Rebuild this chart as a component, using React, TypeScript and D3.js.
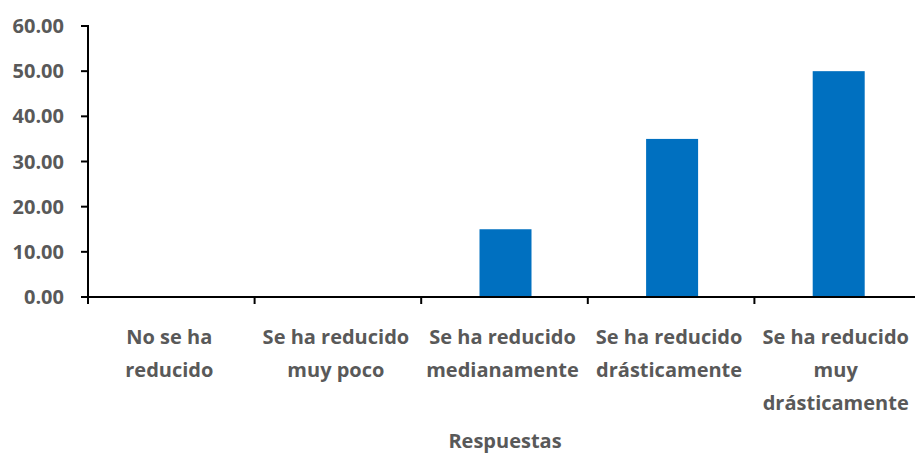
import React, { useEffect, useRef } from 'react';
import * as d3 from 'd3';

const categories = [
  "No se ha reducido",
  "Se ha reducido muy poco",
  "Se ha reducido medianamente",
  "Se ha reducido drásticamente",
  "Se ha reducido muy drásticamente",
];
const labelLines = [
  ["No se ha", "reducido"],
  ["Se ha reducido", "muy poco"],
  ["Se ha reducido", "medianamente"],
  ["Se ha reducido", "drásticamente"],
  ["Se ha reducido", "muy", "drásticamente"],
];
const values = [0, 0, 15, 35, 50];
const yTicks = [0, 10, 20, 30, 40, 50, 60];

const App: React.FC = () => {
  const ref = useRef<SVGSVGElement | null>(null);

  useEffect(() => {
    if (!ref.current) return;
    const width = 915;
    const height = 455;
    const margin = { top: 26, left: 88, bottom: 297 };
    const font = "'Open Sans', 'DejaVu Sans', sans-serif";
    const fontSize = "20px";
    const textColor = "#595959";

    const svg = d3.select(ref.current).attr("width", width).attr("height", height);
    svg.selectAll("*").remove();

    const x = d3.scaleBand<string>().domain(categories).range([margin.left, 921]).paddingInner(0).paddingOuter(0);
    const y = d3.scaleLinear().domain([0, 60]).range([margin.bottom, margin.top]);

    // bars
    const bw = 52;
    svg.append("g")
      .selectAll("rect")
      .data(values)
      .enter()
      .append("rect")
      .attr("x", (d, i) => (x(categories[i]) as number) + x.bandwidth() / 2 - bw / 2 + 1)
      .attr("y", d => y(d))
      .attr("width", bw)
      .attr("height", d => y(0) - y(d))
      .attr("fill", "#0070C0");

    // y axis
    const yAxis = svg.append("g");
    yAxis.append("line")
      .attr("x1", margin.left).attr("x2", margin.left)
      .attr("y1", y(60) - 1).attr("y2", y(0) + 1)
      .attr("stroke", "#000").attr("stroke-width", 2);
    yTicks.forEach(t => {
      yAxis.append("line")
        .attr("x1", margin.left - 7).attr("x2", margin.left)
        .attr("y1", y(t)).attr("y2", y(t))
        .attr("stroke", "#000").attr("stroke-width", 2);
      yAxis.append("text")
        .attr("x", 64)
        .attr("y", y(t))
        .attr("dy", "0.35em")
        .attr("text-anchor", "end")
        .attr("font-family", font)
        .attr("font-weight", "bold")
        .attr("font-size", fontSize)
        .attr("fill", textColor)
        .text(d3.format(".2f")(t));
    });

    // x axis
    const xAxis = svg.append("g");
    xAxis.append("line")
      .attr("x1", margin.left - 7).attr("x2", width)
      .attr("y1", y(0)).attr("y2", y(0))
      .attr("stroke", "#000").attr("stroke-width", 2);
    categories.forEach((c, i) => {
      const x0 = x(c) as number;
      xAxis.append("line")
        .attr("x1", x0).attr("x2", x0)
        .attr("y1", y(0)).attr("y2", y(0) + 7)
        .attr("stroke", "#000").attr("stroke-width", 2);
      const t = xAxis.append("text")
        .attr("text-anchor", "middle")
        .attr("font-family", font)
        .attr("font-weight", "bold")
        .attr("font-size", fontSize)
        .attr("fill", textColor);
      labelLines[i].forEach((line, j) => {
        t.append("tspan")
          .attr("x", x0 + x.bandwidth() / 2 - 2)
          .attr("y", 344 + j * 33)
          .text(line);
      });
    });

    svg.append("text")
      .attr("x", 505)
      .attr("y", 448)
      .attr("text-anchor", "middle")
      .attr("font-family", font)
      .attr("font-weight", "bold")
      .attr("font-size", fontSize)
      .attr("fill", textColor)
      .text("Respuestas");
  }, []);

  return <svg ref={ref} style={{ position: "absolute", left: 0, top: 0 }}></svg>;
};

export default App;
